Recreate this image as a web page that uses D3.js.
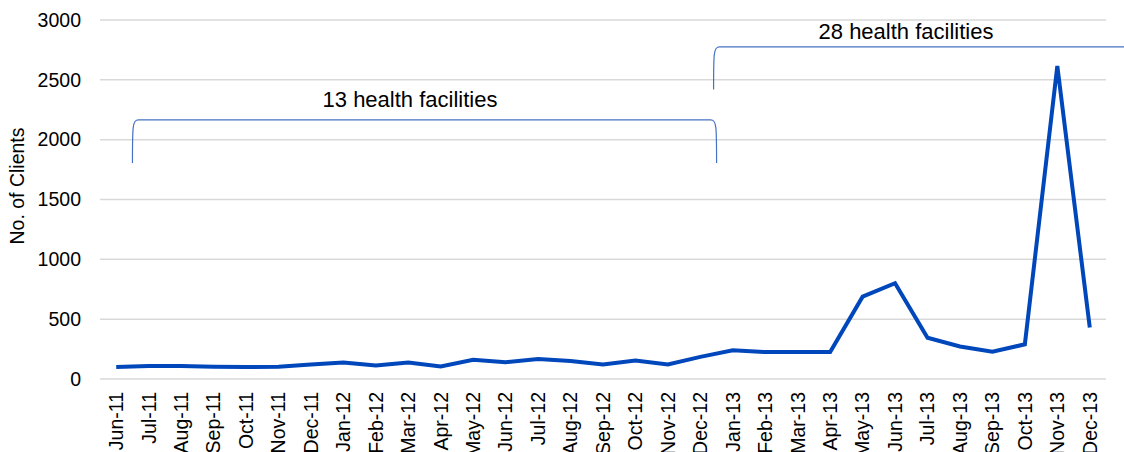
<!DOCTYPE html>
<html>
<head>
<meta charset="utf-8">
<script src="https://cdn.jsdelivr.net/npm/d3@7"></script>
<style>
  body { margin: 0; background: #fff; }
  text { font-family: "Liberation Sans", Arial, sans-serif; fill: #000; }
</style>
</head>
<body>
<div id="chart"></div>
<script>
var months = ["Jun-11","Jul-11","Aug-11","Sep-11","Oct-11","Nov-11","Dec-11",
  "Jan-12","Feb-12","Mar-12","Apr-12","May-12","Jun-12","Jul-12","Aug-12","Sep-12","Oct-12","Nov-12","Dec-12",
  "Jan-13","Feb-13","Mar-13","Apr-13","May-13","Jun-13","Jul-13","Aug-13","Sep-13","Oct-13","Nov-13","Dec-13"];
var clients = [100, 108, 108, 103, 100, 102, 122,
  138, 112, 138, 105, 160, 140, 168, 150, 122, 155, 122, 185,
  240, 225, 225, 225, 688, 800, 345, 272, 228, 290, 2615, 430];
var yTicks = [0, 500, 1000, 1500, 2000, 2500, 3000];

// bracket annotations: first/last month covered, height of bar and legs (in client units)
var groups = [
  {label: "13 health facilities", from: "Jun-11", to: "Dec-12", top: 2165, bottom: 1805, open: false},
  {label: "28 health facilities", from: "Dec-12", to: null, top: 2775, bottom: 2420, open: true}
];

var svgWidth = 1124;
var svgHeight = 452;
var margin = {top: 20, right: 18, bottom: 73, left: 100};

var svg = d3.select("#chart")
            .append("svg")
            .attr("width", svgWidth)
            .attr("height", svgHeight);

var x = d3.scaleBand()
    .domain(months)
    .range([margin.left, svgWidth - margin.right]);

var y = d3.scaleLinear()
    .domain([0, 3000])
    .range([svgHeight - margin.bottom, margin.top]);

// gridlines
svg.append("g")
    .selectAll("line")
    .data(yTicks)
    .enter()
    .append("line")
    .attr("x1", margin.left)
    .attr("x2", svgWidth - margin.right)
    .attr("y1", function(d) { return y(d); })
    .attr("y2", function(d) { return y(d); })
    .attr("stroke", "#d9d9d9")
    .attr("stroke-width", 1.5);

// y axis labels
var yAxis = d3.axisLeft(y).tickValues(yTicks).tickFormat(d3.format("d")).tickSize(0).tickPadding(19);
svg.append("g")
    .attr("transform", "translate(" + margin.left + ",0)")
    .call(yAxis)
    .call(function(g) { g.select(".domain").remove(); })
    .selectAll("text")
    .style("font-family", "Liberation Sans, Arial, sans-serif")
    .style("font-size", "19.5px")
    .attr("fill", "#000");

// x axis labels
var xAxis = d3.axisBottom(x).tickSize(0).tickPadding(0);
svg.append("g")
    .attr("transform", "translate(0," + y(0) + ")")
    .call(xAxis)
    .call(function(g) { g.select(".domain").remove(); })
    .selectAll("text")
    .style("font-family", "Liberation Sans, Arial, sans-serif")
    .style("font-size", "19.5px")
    .attr("fill", "#000")
    .attr("text-anchor", "end")
    .attr("dy", "0.35em")
    .attr("transform", "translate(0,13) rotate(-90)");

// y axis title
svg.append("text")
    .attr("transform", "translate(24," + 186 + ") rotate(-90)")
    .attr("text-anchor", "middle")
    .style("font-size", "19.5px")
    .text("No. of Clients");

// line
var line = d3.line()
    .x(function(d, i) { return x(months[i]) + x.bandwidth() / 2; })
    .y(function(d) { return y(d); });

svg.append("path")
    .datum(clients)
    .attr("fill", "none")
    .attr("stroke", "#0047bb")
    .attr("stroke-width", 4)
    .attr("stroke-linejoin", "miter")
    .attr("d", line);

// brackets
groups.forEach(function(g) {
  var x0 = x(g.from) + x.bandwidth() - (g.open ? 3 : 0);
  var x1 = g.open ? svgWidth + 10 : x(g.to) + x.bandwidth();
  var yt = y(g.top), yb = y(g.bottom), r = 6;
  var d = "M" + x0 + "," + yb + " C" + x0 + "," + (yt + r) + " " + x0 + "," + yt + " " + (x0 + r) + "," + yt +
          " L" + (x1 - r) + "," + yt;
  if (!g.open) {
    d += " C" + x1 + "," + yt + " " + x1 + "," + (yt + r) + " " + x1 + "," + yb;
  }
  svg.append("path")
      .attr("d", d)
      .attr("fill", "none")
      .attr("stroke", "#4472c4")
      .attr("stroke-width", 1.2);
});

svg.append("text")
    .attr("x", 410)
    .attr("y", y(groups[0].top) - 13)
    .attr("text-anchor", "middle")
    .style("font-size", "22px")
    .text(groups[0].label);

svg.append("text")
    .attr("x", 906)
    .attr("y", y(groups[1].top) - 8)
    .attr("text-anchor", "middle")
    .style("font-size", "22px")
    .text(groups[1].label);
</script>
</body>
</html>
